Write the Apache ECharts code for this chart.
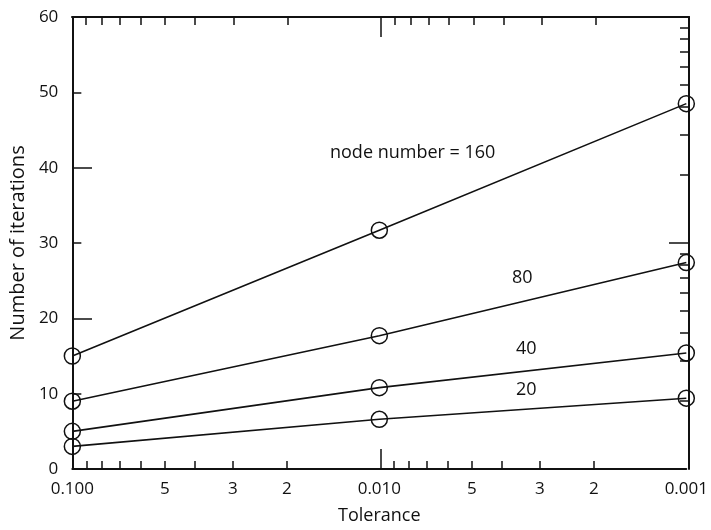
<!DOCTYPE html>
<html>
<head>
<meta charset="utf-8">
<script src="https://cdn.jsdelivr.net/npm/echarts@6/dist/echarts.min.js"></script>
<style>
  html, body { margin: 0; padding: 0; background: #fff; }
  #chart { width: 711px; height: 530px; }
</style>
</head>
<body>
<div id="chart"></div>
<script>
// tolerance values (x, log scale, decreasing to the right)
const tolerance = [0.1, 0.01, 0.001];
// iterations per node number
const node160 = [15.0, 31.7, 48.5];
const node80 = [9.0, 17.7, 27.4];
const node40 = [5.0, 10.8, 15.4];
const node20 = [3.0, 6.6, 9.4];

// x tick labels
const xLabelValues = [0.1, 0.05, 0.03, 0.02, 0.01, 0.005, 0.003, 0.002, 0.001];
const xLabelTexts = ["0.100", "5", "3", "2", "0.010", "5", "3", "2", "0.001"];
// minor / major tick positions on x
const xMinorTicks = [0.09, 0.08, 0.07, 0.06, 0.05, 0.04, 0.03, 0.02,
  0.009, 0.008, 0.007, 0.006, 0.005, 0.004, 0.003, 0.002];
const xMajorTicks = [0.01];
// left y ticks
const yShortTicks = [10, 30, 50];
const yLongTicks = [20, 40];
// right frame log ticks (1..100)
const rightMinor = [2, 3, 4, 5, 6, 7, 8, 9, 20, 30, 40, 50, 60, 70, 80, 90];
const rightMajor = [10];

const lg = (v) => Math.log10(v);
const font = "'Open Sans', 'Noto Sans', sans-serif";
const ink = "#111";

const chart = echarts.init(document.getElementById("chart"));

const mkSeries = (vals) => ({
  type: "line",
  xAxisIndex: 0,
  yAxisIndex: 0,
  data: tolerance.map((t, i) => [lg(t), vals[i]]),
  symbol: "circle",
  symbolSize: 16,
  lineStyle: { color: ink, width: 1.6 },
  itemStyle: { color: "rgba(0,0,0,0)", borderColor: ink, borderWidth: 1.5 },
  showSymbol: true,
  z: 5,
});

const hidden = { show: false };
const tickStyle = { color: ink, width: 1.5 };
const gridRect = { left: 72, right: 22, top: 17, bottom: 61 };

// one x axis per grid, all on the same rectangle
const xAxisFor = (gridIndex, position, ticks, len, withLine, withLabels) => ({
  type: "value",
  gridIndex,
  min: -3,
  max: -1,
  inverse: true,
  position,
  splitLine: hidden,
  axisLine: { show: withLine, onZero: false, lineStyle: { color: ink, width: 2 } },
  axisTick: { show: true, inside: true, length: len, customValues: ticks.map(lg), lineStyle: tickStyle },
  axisLabel: withLabels
    ? {
        show: true,
        margin: 12,
        fontFamily: font,
        fontSize: 17,
        color: ink,
        customValues: xLabelValues.map(lg),
        formatter: (v) => {
          const i = xLabelValues.findIndex((x) => Math.abs(lg(x) - v) < 1e-6);
          return i >= 0 ? xLabelTexts[i] : "";
        },
      }
    : hidden,
});

const yAxisFor = (gridIndex, position, min, max, ticks, len, withLine) => ({
  type: "value",
  gridIndex,
  min,
  max,
  position,
  splitLine: hidden,
  axisLine: { show: withLine, onZero: false, lineStyle: { color: ink, width: 2 } },
  axisTick: { show: true, inside: true, length: len, customValues: ticks, lineStyle: tickStyle },
  axisLabel: hidden,
});

const xMain = xAxisFor(0, "bottom", xMinorTicks, 8, true, true);
xMain.name = "Tolerance";
xMain.nameLocation = "middle";
xMain.nameGap = 38;
xMain.nameTextStyle = { fontFamily: font, fontSize: 18, color: ink };

const yMain = yAxisFor(0, "left", 0, 60, yShortTicks, 9, true);
yMain.interval = 10;
yMain.axisLabel = { show: true, margin: 14, fontFamily: font, fontSize: 17, color: ink };
yMain.name = "Number of iterations";
yMain.nameLocation = "middle";
yMain.nameGap = 42;
yMain.nameTextStyle = { fontFamily: font, fontSize: 20, color: ink };

chart.setOption({
  backgroundColor: "#fff",
  animation: false,
  grid: [gridRect, gridRect, gridRect, gridRect],
  xAxis: [
    xMain,
    xAxisFor(1, "top", xMinorTicks, 8, true, false),
    xAxisFor(2, "bottom", xMajorTicks, 20, false, false),
    xAxisFor(3, "top", xMajorTicks, 20, false, false),
  ],
  yAxis: [
    yMain,
    yAxisFor(1, "right", 0, 2, rightMinor.map(lg), 9, true),
    yAxisFor(2, "left", 0, 60, yLongTicks, 20, false),
    yAxisFor(3, "right", 0, 2, rightMajor.map(lg), 20, false),
  ],
  graphic: [
    { type: "text", left: 330, top: 144, style: { text: "node number = 160", font: "18px " + font, fill: ink } },
    { type: "text", left: 512, top: 269, style: { text: "80", font: "18px " + font, fill: ink } },
    { type: "text", left: 516, top: 340, style: { text: "40", font: "18px " + font, fill: ink } },
    { type: "text", left: 516, top: 381, style: { text: "20", font: "18px " + font, fill: ink } },
  ],
  series: [mkSeries(node160), mkSeries(node80), mkSeries(node40), mkSeries(node20)],
});
</script>
</body>
</html>
